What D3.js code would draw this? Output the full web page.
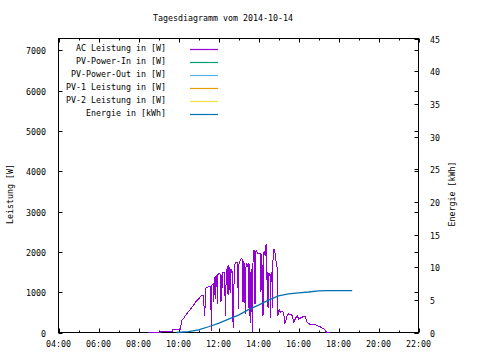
<!DOCTYPE html>
<html><head><meta charset="utf-8">
<script src="https://cdn.jsdelivr.net/npm/d3@7"></script>
<style>
body{margin:0;background:#fff;}
text{font-family:"DejaVu Sans Mono",monospace;font-size:8.3px;fill:#000;}
</style></head><body>
<svg id="c" width="480" height="360"></svg>
<script>
const title = "Tagesdiagramm vom 2014-10-14";
const leftTicks = [0,1000,2000,3000,4000,5000,6000,7000];
const rightTicks = [0,5,10,15,20,25,30,35,40,45];
const xTickLabels = ["04:00","06:00","08:00","10:00","12:00","14:00","16:00","18:00","20:00","22:00"];
const seriesNames = ["AC Leistung in [W]","PV-Power-In in [W]","PV-Power-Out in [W]","PV-1 Leistung in [W]","PV-2 Leistung in [W]","Energie in [kWh]"];
const seriesColors = ["#9400d3","#009e73","#56b4e9","#e69f00","#f0e442","#0072b2"];

const powerTimes = ["08:28","09:06","09:07","09:42","09:43","10:07","10:08","10:15","10:22","10:30","10:38","10:45","10:52","11:00","11:06","11:11","11:16","11:17","11:19","11:21","11:30","11:37","11:38","11:39","11:40","11:44","11:45","11:46","11:48","11:51","11:52","11:53","11:56","11:57","11:58","12:02","12:05","12:06","12:07","12:08","12:09","12:10","12:11","12:13","12:16","12:19","12:20","12:21","12:23","12:26","12:27","12:28","12:29","12:30","12:31","12:32","12:33","12:34","12:35","12:36","12:38","12:40","12:42","12:43","12:44","12:45","12:46","12:48","12:50","12:53","12:56","12:58","12:59","13:00","13:01","13:04","13:06","13:09","13:12","13:13","13:14","13:15","13:18","13:20","13:21","13:22","13:25","13:28","13:30","13:31","13:32","13:33","13:34","13:35","13:36","13:37","13:38","13:39","13:40","13:41","13:42","13:44","13:46","13:48","13:49","13:50","13:51","13:54","13:57","14:00","14:05","14:07","14:08","14:10","14:13","14:14","14:15","14:18","14:20","14:22","14:24","14:25","14:26","14:27","14:29","14:30","14:33","14:35","14:36","14:37","14:40","14:42","14:43","14:45","14:47","14:49","14:52","14:55","14:56","14:57","14:58","15:02","15:06","15:12","15:16","15:18","15:22","15:27","15:31","15:36","15:41","15:46","15:51","15:56","16:01","16:06","16:10","16:15","16:20","16:26","16:31","16:36","16:45","16:50","16:56","17:01","17:08","17:16","17:26","17:34","18:14"];
const acPower = [0,0,30,35,75,80,280,350,430,520,600,680,760,830,890,920,930,420,440,1090,1140,1150,50,70,1180,1200,760,780,1370,1380,820,1400,1420,700,1440,1460,1450,760,1300,820,1420,780,1380,1490,1500,1480,420,450,1410,1600,950,1650,1000,1670,920,1620,1050,1600,980,1580,1500,1550,1480,260,1200,100,1050,1600,1720,1750,1740,1700,590,620,1680,1760,1820,1830,1800,750,780,1780,1650,470,500,1600,1700,1640,1720,600,1700,400,1600,225,1500,300,1580,500,1400,10,1200,1900,2030,2040,700,720,2000,2020,1960,1960,1960,1045,1060,1950,420,440,1980,2000,1900,2150,2190,2100,630,1500,600,1450,1465,1400,350,1450,1500,600,1700,2060,2050,2000,1800,1640,1600,900,420,560,500,520,470,215,300,440,465,440,430,260,350,420,330,360,380,390,385,260,220,200,205,195,170,150,130,85,0,0];

const energyTimes = ["09:54","10:30","11:00","11:30","12:00","12:30","13:00","13:30","14:00","14:30","15:00","15:30","16:00","16:30","17:00","17:30","18:41"];
const energy = [0,0.12,0.4,0.88,1.4,2.05,2.65,3.5,4.2,4.95,5.6,5.9,6.08,6.2,6.36,6.4,6.4];

const toH = s => { const [h,m] = s.split(":").map(Number); return h + m/60; };

const L = 58.5, R = 418.5, T = 38.5, B = 332.5;
const svg = d3.select("#c");
const x = d3.scaleLinear().domain([4,22]).range([L,R]);
const y = d3.scaleLinear().domain([0,7290]).range([B,T]);
const y2 = d3.scaleLinear().domain([0,45]).range([B,T]);

svg.append("text").attr("x",223).attr("y",21).attr("text-anchor","middle").text(title);

// frame
svg.append("rect").attr("x",L).attr("y",T).attr("width",R-L).attr("height",B-T)
  .attr("fill","none").attr("stroke","#000").attr("stroke-width",1);

// x ticks: hourly, majors every 2h
const hours = d3.range(4,23);
hours.forEach(h=>{
  const len = (h%2===0)?4:2;
  const xx = Math.round(x(h))+0.5;
  svg.append("line").attr("x1",xx).attr("x2",xx).attr("y1",B).attr("y2",B-len).attr("stroke","#000");
  svg.append("line").attr("x1",xx).attr("x2",xx).attr("y1",T).attr("y2",T+len).attr("stroke","#000");
});
xTickLabels.forEach(lbl=>{
  svg.append("text").attr("x",x(toH(lbl))).attr("y",347).attr("text-anchor","middle").text(lbl);
});

// left ticks (mirrored on right)
leftTicks.forEach(v=>{
  const yy = Math.round(y(v))+0.5;
  svg.append("line").attr("x1",L).attr("x2",L+4).attr("y1",yy).attr("y2",yy).attr("stroke","#000");
  svg.append("line").attr("x1",R).attr("x2",R-4).attr("y1",yy).attr("y2",yy).attr("stroke","#000");
  svg.append("text").attr("x",46).attr("y",yy+3).attr("text-anchor","end").text(v);
});
// right ticks
rightTicks.forEach(v=>{
  const yy = Math.round(y2(v))+0.5;
  svg.append("line").attr("x1",R).attr("x2",R-4).attr("y1",yy).attr("y2",yy).attr("stroke","#000");
  svg.append("text").attr("x",430).attr("y",yy+3).attr("text-anchor","start").text(v);
});

// axis labels
svg.append("text").attr("transform","translate(13,194) rotate(-90)").attr("text-anchor","middle").text("Leistung [W]");
svg.append("text").attr("transform","translate(455,194) rotate(-90)").attr("text-anchor","middle").text("Energie [kWh]");

// legend
seriesNames.forEach((n,i)=>{
  const yy = 49.5 + i*13;
  svg.append("text").attr("x",166).attr("y",yy+1).attr("text-anchor","end").text(n);
  svg.append("line").attr("x1",190).attr("x2",218).attr("y1",yy).attr("y2",yy)
    .attr("stroke",seriesColors[i]).attr("stroke-width",1.2);
});

// AC power line
const pData = powerTimes.map((t,i)=>[toH(t),acPower[i]]);
svg.append("path").datum(pData)
  .attr("d",d3.line().x(d=>x(d[0])).y(d=>y(d[1])))
  .attr("fill","none").attr("stroke",seriesColors[0]).attr("stroke-width",1)
  .attr("shape-rendering","crispEdges");

// energy line
const eData = energyTimes.map((t,i)=>[toH(t),energy[i]]);
svg.append("path").datum(eData)
  .attr("d",d3.line().x(d=>x(d[0])).y(d=>y2(d[1])))
  .attr("fill","none").attr("stroke",seriesColors[5]).attr("stroke-width",1.3);
</script>
</body></html>
